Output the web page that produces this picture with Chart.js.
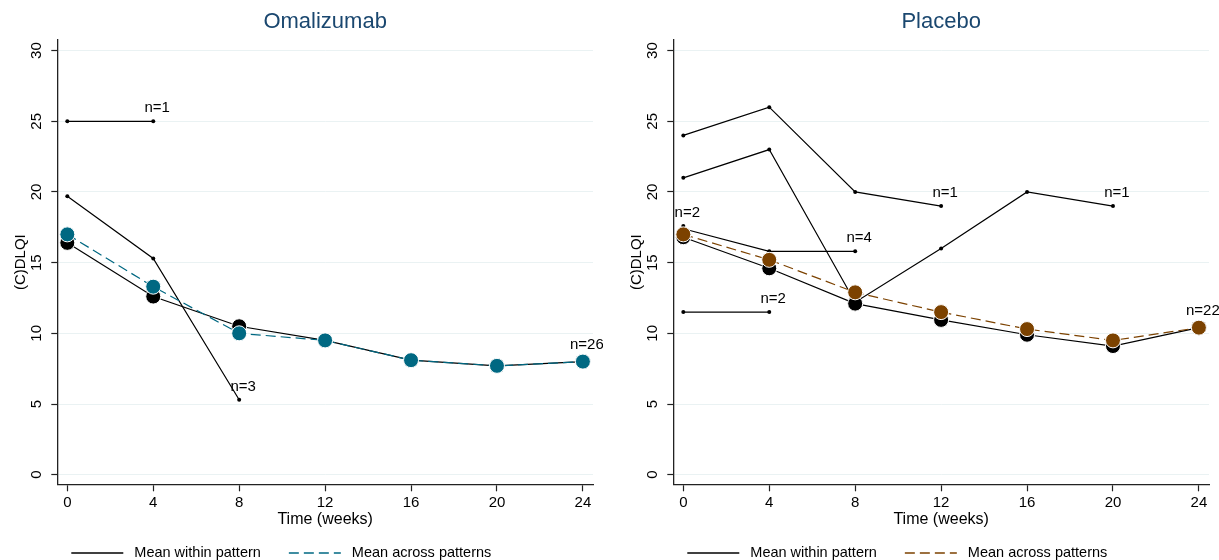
<!DOCTYPE html>
<html>
<head>
<meta charset="utf-8">
<script src="https://cdn.jsdelivr.net/npm/chart.js@4.4.0/dist/chart.umd.min.js"></script>
<style>
  body { margin: 0; background: #fff; overflow: hidden; width: 1219px; height: 560px; position: relative; }
  canvas { position: absolute; top: 0; }
  #omaChart { left: -6px; }
  #plaChart { left: 610px; }
</style>
</head>
<body>
<canvas id="omaChart" width="609" height="560"></canvas>
<canvas id="plaChart" width="609" height="560"></canvas>
<script>
const weeks = [0, 4, 8, 12, 16, 20, 24];
const xTicks = [0, 4, 8, 12, 16, 20, 24];
const yTicks = [0, 5, 10, 15, 20, 25, 30];

// Omalizumab
const omaWithin = [16.4, 12.6, 10.5, 9.5, 8.1, 7.7, 8.0];
const omaAcross = [17.0, 13.3, 10.0, 9.5, 8.1, 7.7, 8.0];
const omaWithinN = "n=26";
const omaPatWeeks = [[0, 4], [0, 4, 8]];
const omaPatVals = [[25, 25], [19.7, 15.3, 5.3]];
const omaPatN = ["n=1", "n=3"];

// Placebo
const plaWithin = [16.8, 14.6, 12.1, 10.95, 9.9, 9.1, 10.4];
const plaAcross = [17.0, 15.2, 12.9, 11.5, 10.3, 9.5, 10.4];
const plaWithinN = "n=22";
const plaPatWeeks = [[0, 4], [0], [0, 4, 8], [0, 4, 8, 12], [0, 4, 8, 12, 16, 20]];
const plaPatVals = [[11.5, 11.5], [17.6], [17.4, 15.8, 15.8], [24, 26, 20, 19], [21, 23, 12.2, 16, 20, 19]];
const plaPatN = ["n=2", "n=2", "n=4", "n=1", "n=1"];

const FONT = '"Liberation Sans", Arial, sans-serif';
const GRID = "#eaf2f3";
const AXIS = "#222";

const nLabels = {
  id: "nLabels",
  afterDatasetsDraw(chart) {
    const ctx = chart.ctx;
    ctx.save();
    ctx.font = "15px " + FONT;
    ctx.fillStyle = "#000";
    ctx.textAlign = "center";
    ctx.textBaseline = "middle";
    chart.data.datasets.forEach((ds, i) => {
      if (!ds.nLabel) return;
      const pts = chart.getDatasetMeta(i).data;
      const p = pts[pts.length - 1];
      const off = ds.pointRadius > 4 ? 17 : 13;
      ctx.fillText(ds.nLabel, p.x + 4, p.y - off);
    });
    ctx.restore();
  }
};

// legend drawn under the plot: solid black line + dashed coloured line
const lineKey = {
  id: "lineKey",
  afterDraw(chart, args, opts) {
    const ctx = chart.ctx;
    const y = 553;
    let x = chart.chartArea.left + 14;
    ctx.save();
    ctx.font = "14.5px " + FONT;
    ctx.textBaseline = "middle";
    ctx.textAlign = "left";
    opts.items.forEach(it => {
      ctx.beginPath();
      ctx.strokeStyle = it.color;
      ctx.lineWidth = 1.3;
      ctx.setLineDash(it.dash);
      ctx.moveTo(x, y);
      ctx.lineTo(x + 52, y);
      ctx.stroke();
      ctx.setLineDash([]);
      x += 52 + 11;
      ctx.fillStyle = "#000";
      ctx.fillText(it.text, x, y);
      x += ctx.measureText(it.text).width + 28;
    });
    ctx.restore();
  }
};

function pts(xs, ys) {
  return xs.map((w, i) => ({ x: w, y: ys[i] }));
}

function makeChart(id, title, within, withinN, across, acrossColor, patWeeks, patVals, patN) {
  const datasets = [
    {
      label: "Mean across patterns",
      data: pts(weeks, across),
      borderColor: acrossColor,
      borderDash: [10, 5],
      borderWidth: 1.2,
      pointRadius: 7.5,
      pointBackgroundColor: acrossColor,
      pointBorderColor: "#fff",
      pointBorderWidth: 1,
      order: 0
    },
    {
      label: "Mean within pattern",
      data: pts(weeks, within),
      borderColor: "#000",
      borderWidth: 1.2,
      pointRadius: 7.5,
      pointBackgroundColor: "#000",
      pointBorderColor: "#fff",
      pointBorderWidth: 1,
      nLabel: withinN,
      order: 1
    }
  ];
  patWeeks.forEach((w, i) => {
    datasets.push({
      label: "pattern " + (i + 1),
      data: pts(w, patVals[i]),
      borderColor: "#000",
      borderWidth: 1.2,
      pointRadius: 2,
      pointBackgroundColor: "#000",
      pointBorderWidth: 0,
      nLabel: patN[i],
      order: 2
    });
  });

  return new Chart(document.getElementById(id), {
    type: "line",
    data: { datasets },
    options: {
      responsive: false,
      animation: false,
      layout: { padding: { top: 0, right: 10, bottom: 30, left: 0 } },
      elements: { line: { tension: 0 } },
      plugins: {
        legend: { display: false },
        tooltip: { enabled: false },
        title: {
          display: true,
          text: title,
          fullSize: false,
          color: "#1a476f",
          font: { family: FONT, size: 22, weight: "normal" },
          padding: { top: 8.8, bottom: 4.8 }
        },
        lineKey: {
          items: [
            { text: "Mean within pattern", color: "#000", dash: [] },
            { text: "Mean across patterns", color: acrossColor, dash: [10, 5] }
          ]
        }
      },
      scales: {
        x: {
          type: "linear",
          min: -0.466,
          max: 24.47,
          afterBuildTicks: s => { s.ticks = xTicks.map(v => ({ value: v })); },
          afterFit: s => { s.height = 45.7; },
          grid: { drawOnChartArea: false, drawTicks: true, tickLength: 7, tickColor: AXIS, tickWidth: 1.2 },
          border: { display: true, color: AXIS, width: 1.3 },
          ticks: { color: "#000", padding: 3, maxRotation: 0, font: { family: FONT, size: 15 } },
          title: { display: true, text: "Time (weeks)", color: "#000", font: { family: FONT, size: 16 }, padding: { top: 0, bottom: 0.4 } }
        },
        y: {
          type: "linear",
          min: -0.68,
          max: 30.75,
          afterBuildTicks: s => { s.ticks = yTicks.map(v => ({ value: v })); },
          afterFit: s => { s.width = 63.3; },
          grid: { color: GRID, lineWidth: 1, drawTicks: true, tickLength: 6, tickColor: AXIS, tickWidth: 1.2 },
          border: { display: true, color: AXIS, width: 1.3 },
          ticks: { color: "#000", padding: 6, minRotation: 90, maxRotation: 90, crossAlign: "center", font: { family: FONT, size: 15 } },
          title: { display: true, text: "(C)DLQI", color: "#000", font: { family: FONT, size: 15 }, padding: { top: 18, bottom: 0 } }
        }
      }
    },
    plugins: [nLabels, lineKey]
  });
}

makeChart("omaChart", "Omalizumab", omaWithin, omaWithinN, omaAcross, "#006882", omaPatWeeks, omaPatVals, omaPatN);
makeChart("plaChart", "Placebo", plaWithin, plaWithinN, plaAcross, "#7c4200", plaPatWeeks, plaPatVals, plaPatN);
</script>
</body>
</html>
